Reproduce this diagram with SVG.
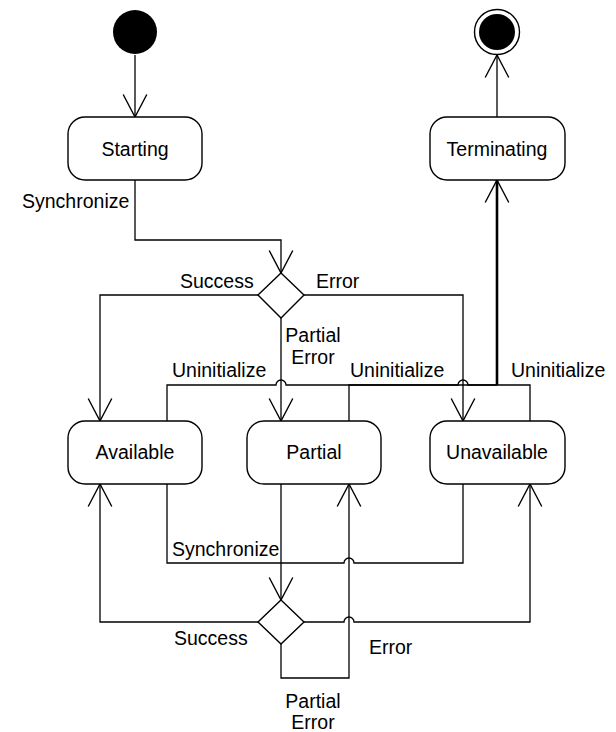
<svg xmlns="http://www.w3.org/2000/svg" width="616" height="732" viewBox="0 0 616 732">
<defs>
<style>
.box{fill:#fff;stroke:#000;stroke-width:1.4}
.ln{fill:none;stroke:#000;stroke-width:1.3}
.thick{fill:none;stroke:#000;stroke-width:2.6}
text{font-family:"Liberation Sans",Arial,sans-serif;font-size:19.5px;fill:#000}
.c{text-anchor:middle}
</style>
<marker id="arr" markerUnits="userSpaceOnUse" markerWidth="30" markerHeight="30" viewBox="-24 -14 28 28" refX="0" refY="0" orient="auto">
<path d="M-21,-11 L0,0 L-21,11" fill="none" stroke="#000" stroke-width="1.3"/>
</marker>
</defs>
<rect width="616" height="732" fill="#fff"/>
<g id="connectors">
<path class="ln" d="M135,55 V117" marker-end="url(#arr)"/>
<path class="ln" d="M135,180 V240 H281 V273" marker-end="url(#arr)"/>
<path class="ln" d="M258,295 H100 V421" marker-end="url(#arr)"/>
<path class="ln" d="M304,295 H463 V421" marker-end="url(#arr)"/>
<path class="ln" d="M281,318 V421" marker-end="url(#arr)"/>
<path class="ln" d="M167,421 V385 H276 a5,5 0 0 1 10,0 H497"/>
<path class="ln" d="M349,421 V385 H458 a5,5 0 0 1 10,0 H497"/>
<path class="ln" d="M530,421 V385 H497"/>
<path class="thick" d="M497,385 V180" marker-end="url(#arr)"/>
<path class="ln" stroke="#444" d="M497,117 V55" marker-end="url(#arr)"/>
<path class="ln" d="M167,484 V563 H281"/>
<path class="ln" d="M463,484 V563 H354 a5,5 0 0 0 -10,0 H281"/>
<path class="ln" d="M281,484 V600" marker-end="url(#arr)"/>
<path class="ln" d="M258,622 H100 V484" marker-end="url(#arr)"/>
<path class="ln" d="M304,622 H344 a5,5 0 0 1 10,0 H530 V484" marker-end="url(#arr)"/>
<path class="ln" d="M281,644 V678 H349 V484" marker-end="url(#arr)"/>
</g>
<g id="initial"><circle cx="135" cy="32" r="22" fill="#000"/></g>
<g id="final"><circle cx="497" cy="32" r="22.5" fill="#fff" stroke="#000" stroke-width="1.4"/><circle cx="497" cy="32" r="18" fill="#000"/></g>
<g id="starting"><rect class="box" x="68" y="117" width="134" height="63" rx="17"/><text class="c" x="135" y="156">Starting</text></g>
<g id="terminating"><rect class="box" x="430" y="117" width="135" height="63" rx="17"/><text class="c" x="497" y="156">Terminating</text></g>
<g id="available"><rect class="box" x="68" y="421" width="134" height="63" rx="17"/><text class="c" x="135" y="459">Available</text></g>
<g id="partial"><rect class="box" x="247" y="421" width="134" height="63" rx="17"/><text class="c" x="314" y="459">Partial</text></g>
<g id="unavailable"><rect class="box" x="430" y="421" width="135" height="63" rx="17"/><text class="c" x="497" y="459">Unavailable</text></g>
<g id="decision1"><polygon class="box" points="281,273 304,295 281,318 258,295"/></g>
<g id="decision2"><polygon class="box" points="281,600 304,622 281,644 258,622"/></g>
<g id="labels">
<text x="22" y="208">Synchronize</text>
<text x="180" y="288">Success</text>
<text x="316" y="288">Error</text>
<text class="c" x="313" y="342">Partial</text>
<text class="c" x="313" y="364">Error</text>
<text x="172" y="377">Uninitialize</text>
<text x="350" y="377">Uninitialize</text>
<text x="511" y="377">Uninitialize</text>
<text x="172" y="556">Synchronize</text>
<text x="174" y="645">Success</text>
<text x="369" y="654">Error</text>
<text class="c" x="313" y="708">Partial</text>
<text class="c" x="313" y="729">Error</text>
</g>
</svg>
